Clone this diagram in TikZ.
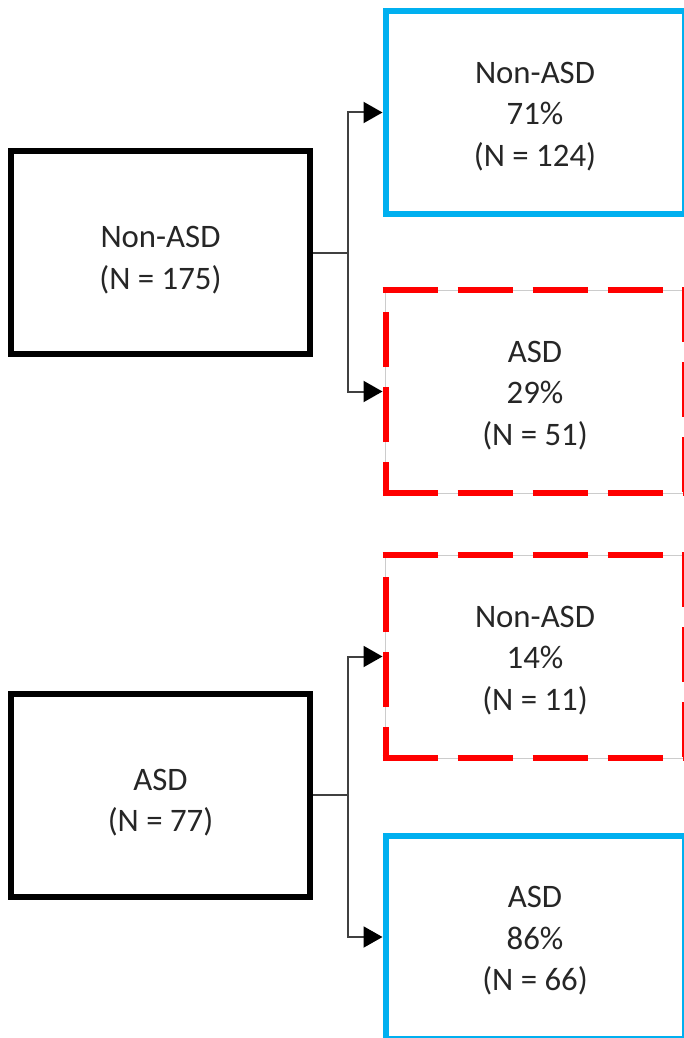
\documentclass[tikz,border=0pt]{standalone}
\usepackage{fontspec}
\setmainfont{Carlito}
\usetikzlibrary{arrows.meta}
\definecolor{cblue}{HTML}{00B0F0}
\definecolor{cred}{HTML}{FF0000}
\definecolor{ctext}{HTML}{262626}
\definecolor{cconn}{HTML}{404040}
\newcommand\srcstrut{\rule{0pt}{37pt}}
\newcommand\outstrut{\rule{0pt}{29pt}}
\begin{document}
\begin{tikzpicture}[x=1pt,y=-1pt,
 every node/.style={font=\fontsize{32.8}{41.5}\selectfont, text=ctext, align=center, inner sep=0pt},
 srcbox/.style={draw=black, line width=6pt, minimum width=299pt, minimum height=203pt},
 outbox/.style={minimum width=299pt, minimum height=203pt},
 blubox/.style={outbox, draw=cblue, line width=6pt},
 redbox/.style={outbox, draw=black!20, line width=1pt, outer sep=3pt},
 reddash/.style={draw=cred, line width=6pt, dash pattern=on 55pt off 20pt},
 conn/.style={draw=cconn, line width=2pt},
 arr/.style={-{Triangle[length=19pt,width=21pt,color=black]}}
]
\useasboundingbox (0,0) rectangle (683,1038);

% source boxes
\node[srcbox] (L1) at (160.5,252.5) {\srcstrut Non-ASD\\(N = 175)};
\node[srcbox] (L2) at (160.5,795) {\srcstrut ASD\\(N = 77)};

% outcome boxes
\node[blubox] (R1) at (535,112.5) {\outstrut Non-ASD\\71\%\\(N = 124)};
\node[redbox] (R2) at (535,391.5) {\outstrut ASD\\29\%\\(N = 51)};
\node[redbox] (R3) at (535,656.5) {\outstrut Non-ASD\\14\%\\(N = 11)};
\node[blubox] (R4) at (535,937) {\outstrut ASD\\86\%\\(N = 66)};

% red dashed borders
\foreach \b in {R2,R3}{
  \draw[reddash] ([yshift=-3pt]\b.north west) -- ([yshift=-3pt]\b.north east);
  \draw[reddash] ([yshift=3pt]\b.south west) -- ([yshift=3pt]\b.south east);
  \draw[reddash,dash phase=21pt] ([xshift=3pt]\b.south west) -- ([xshift=3pt]\b.north west);
  \draw[reddash] ([xshift=-3pt]\b.north east) -- ([xshift=-3pt]\b.south east);
}

% connectors
\draw[conn] (L1.east) -- ++(35,0) coordinate (j1);
\draw[conn,arr] (j1) |- (R1.west);
\draw[conn,arr] (j1) |- (R2.west);
\draw[conn] (L2.east) -- ++(35,0) coordinate (j2);
\draw[conn,arr] (j2) |- (R3.west);
\draw[conn,arr] (j2) |- (R4.west);
\end{tikzpicture}
\end{document}
